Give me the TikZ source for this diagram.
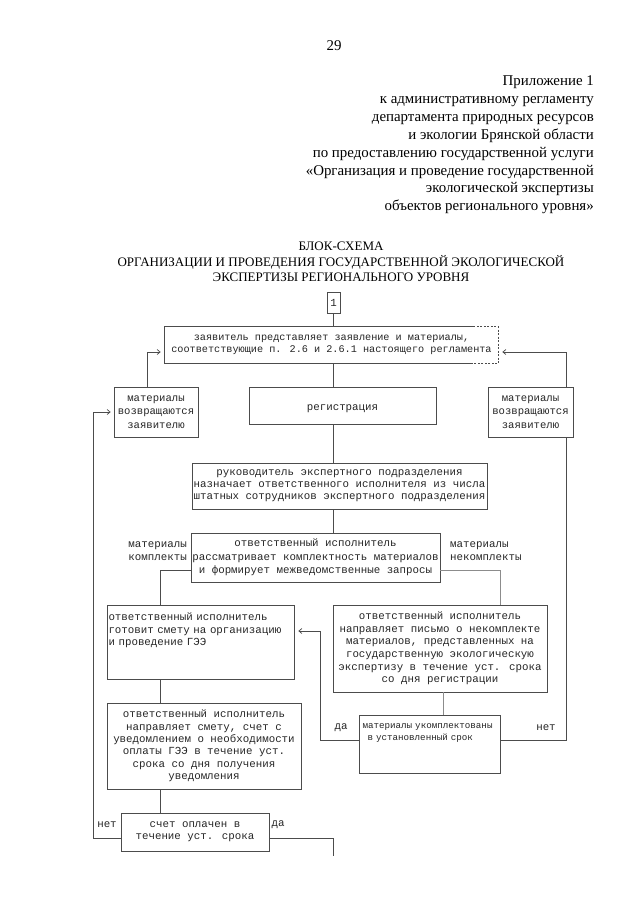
\documentclass[tikz,border=0pt]{standalone}
\usepackage{fontspec}
\setmainfont{Liberation Serif}
\newfontfamily\monofnt{Liberation Mono}
\usetikzlibrary{arrows.meta}
\newcommand\blkfnt{\monofnt\fontsize{10.8}{12.5}\selectfont}

\tikzset{
	blk/.style={draw=black!70, line width=0.7pt, font=\blkfnt, text=black!85, align=center, inner sep=1pt},
	lnk/.style={draw=black!70, line width=0.7pt},
	arr/.style={lnk, -{Straight Barb[length=3pt,width=5pt]}, shorten >=4pt},
	lbl/.style={font=\blkfnt, text=black!85, inner sep=1pt},
}

\begin{document}
\begin{tikzpicture}[x=1pt,y=-1pt]
			%%%%% START %%%%%
			\fill[white] (0,0) rectangle (640,905);
			\useasboundingbox (0,0) rectangle (640,905);
			
			\node[font=\fontsize{14.9}{18}\selectfont] (page) at (334,46) {29};
			\node[anchor=north east, align=right, inner sep=0pt, font=\fontsize{14.9}{17.9}\selectfont] (appx) at (594,75.5) {Приложение 1\\к административному регламенту\\департамента природных ресурсов\\и экологии Брянской области\hspace*{14pt}\\по предоставлению государственной услуги\\«Организация и проведение государственной\\экологической экспертизы\hspace*{14pt}\\объектов регионального уровня»};
			\node[align=center, font=\fontsize{13}{15.5}\selectfont] (title) at (341,262) {БЛОК-СХЕМА\\ОРГАНИЗАЦИИ И ПРОВЕДЕНИЯ ГОСУДАРСТВЕННОЙ ЭКОЛОГИЧЕСКОЙ\\ЭКСПЕРТИЗЫ РЕГИОНАЛЬНОГО УРОВНЯ};
			
			% boxes
			\node[blk, minimum width=13pt, minimum height=21pt] (one) at (333.5,302.5) {1};
			\node[blk, draw=none, minimum width=333pt, minimum height=36pt, font=\monofnt\fontsize{10.2}{12}\selectfont] (zayav) at (331.5,345) {заявитель представляет заявление и материалы,\\соответствующие п. 2.6 и 2.6.1 настоящего регламента};
			\draw[lnk] ([xshift=-25pt]zayav.north east) -- (zayav.north west) -- (zayav.south west) -- ([xshift=-25pt]zayav.south east);
			\draw[lnk, dash pattern=on 2pt off 1.5pt] ([xshift=-25pt]zayav.north east) -- (zayav.north east) -- (zayav.south east) -- ([xshift=-25pt]zayav.south east);
			
			\node[blk, minimum width=187pt, minimum height=37pt] (reg) at (342.5,405.5) {\mbox{}\\регистрация};
			\node[blk, minimum width=84pt, minimum height=50pt, font=\monofnt\fontsize{10.6}{13.5}\selectfont] (vozvL) at (156,412) {материалы\\возвращаются\\заявителю};
			\node[blk, minimum width=85pt, minimum height=50pt, font=\monofnt\fontsize{10.6}{13.5}\selectfont] (vozvR) at (530.5,412) {материалы\\возвращаются\\заявителю};
			
			\node[blk, minimum width=295pt, minimum height=46pt, font=\monofnt\fontsize{10.8}{11.8}\selectfont] (ruk) at (339.5,486) {руководитель экспертного подразделения\\назначает ответственного исполнителя из числа\\штатных сотрудников экспертного подразделения};
			\node[blk, minimum width=249pt, minimum height=49pt, font=\monofnt\fontsize{10.8}{13.3}\selectfont] (rassm) at (315.5,557.5) {ответственный исполнитель\\рассматривает комплектность материалов\\и формирует межведомственные запросы};
			
			\node[blk, minimum width=187pt, minimum height=74pt, align=left, text width=184pt] (smeta) at (200.5,642) {ответственный исполнитель\\готовит смету на организацию\\и проведение ГЭЭ\\\mbox{}\\\mbox{}};
			\node[blk, minimum width=214pt, minimum height=87pt, font=\monofnt\fontsize{10.8}{12.6}\selectfont] (pismo) at (440,648.5) {ответственный исполнитель\\направляет письмо о некомплекте\\материалов, представленных на\\государственную экологическую\\экспертизу в течение уст. срока\\со дня регистрации};
			\node[blk, minimum width=194pt, minimum height=86pt, font=\monofnt\fontsize{10.8}{12.3}\selectfont] (schet) at (204,746) {ответственный исполнитель\\направляет смету, счет с\\уведомлением о необходимости\\оплаты ГЭЭ в течение уст.\\срока со дня получения\\уведомления};
			\node[blk, minimum width=141pt, minimum height=58pt, align=left, text width=134pt, font=\monofnt\fontsize{9.2}{12}\selectfont] (ukompl) at (429.5,744) {материалы укомплектованы\\\hspace*{5pt}в установленный срок\\\mbox{}\\\mbox{}};
			\node[blk, minimum width=148pt, minimum height=38pt, font=\monofnt\fontsize{10.8}{12}\selectfont] (oplata) at (195,832) {счет оплачен в\\течение уст. срока};
			\coordinate (dalee) at (333,856);
			
			% labels
			\node[lbl, anchor=east, align=right] (kompl) at (188,551) {материалы\\комплекты};
			\node[lbl, anchor=west, align=left] (nekompl) at (449,551) {материалы\\некомплекты};
			\node[lbl] (daU) at (341,728) {да};
			\node[lbl] (netU) at (546,728) {нет};
			\node[lbl] (netO) at (107,825) {нет};
			\node[lbl] (daO) at (278,825) {да};
			
			% connectors
			\draw[lnk] (one.south) -- (one.south |- zayav.north);
			\draw[lnk] (one.south |- zayav.south) -- (one.south |- reg.north);
			\draw[lnk] (one.south |- reg.south) -- (one.south |- ruk.north);
			\draw[lnk] (one.south |- ruk.south) -- (one.south |- rassm.north);
			
			\draw[arr] ([xshift=-9pt]vozvL.north) |- ([yshift=-7pt]zayav.west);
			\draw[arr] ([xshift=35.5pt]vozvR.north) |- ([yshift=-7pt]zayav.east);
			
			\draw[lnk] ([yshift=-12.5pt]rassm.west) -| ([xshift=-40.5pt]smeta.north);
			\draw[lnk, draw=black!45] ([yshift=-12.5pt]rassm.east) -| ([xshift=60pt]pismo.north);
			\draw[lnk] ([xshift=-40.5pt]smeta.south) -- ([xshift=-40.5pt]smeta.south |- schet.north);
			\draw[lnk] ([xshift=-44pt]schet.south) -- ([xshift=-44pt]schet.south |- oplata.north);
			\draw[lnk, draw=black!45] ([xshift=3pt]pismo.south) -- ([xshift=3pt]pismo.south |- ukompl.north);
			
			\draw[arr] ([yshift=4pt]ukompl.west) -| ([xshift=26pt,yshift=11pt]smeta.east) -- ([yshift=11pt]smeta.east);
			\draw[lnk] ([yshift=4pt]ukompl.east) -| ([xshift=35.5pt]vozvR.south);
			
			\draw[arr, shorten >=3pt] ([yshift=-6pt]oplata.west) -| ([xshift=-20pt]vozvL.west) -- (vozvL.west);
			\draw[lnk] ([yshift=-6pt]oplata.east) -| (dalee);
			%%%%% END %%%%%
\end{tikzpicture}
\end{document}
